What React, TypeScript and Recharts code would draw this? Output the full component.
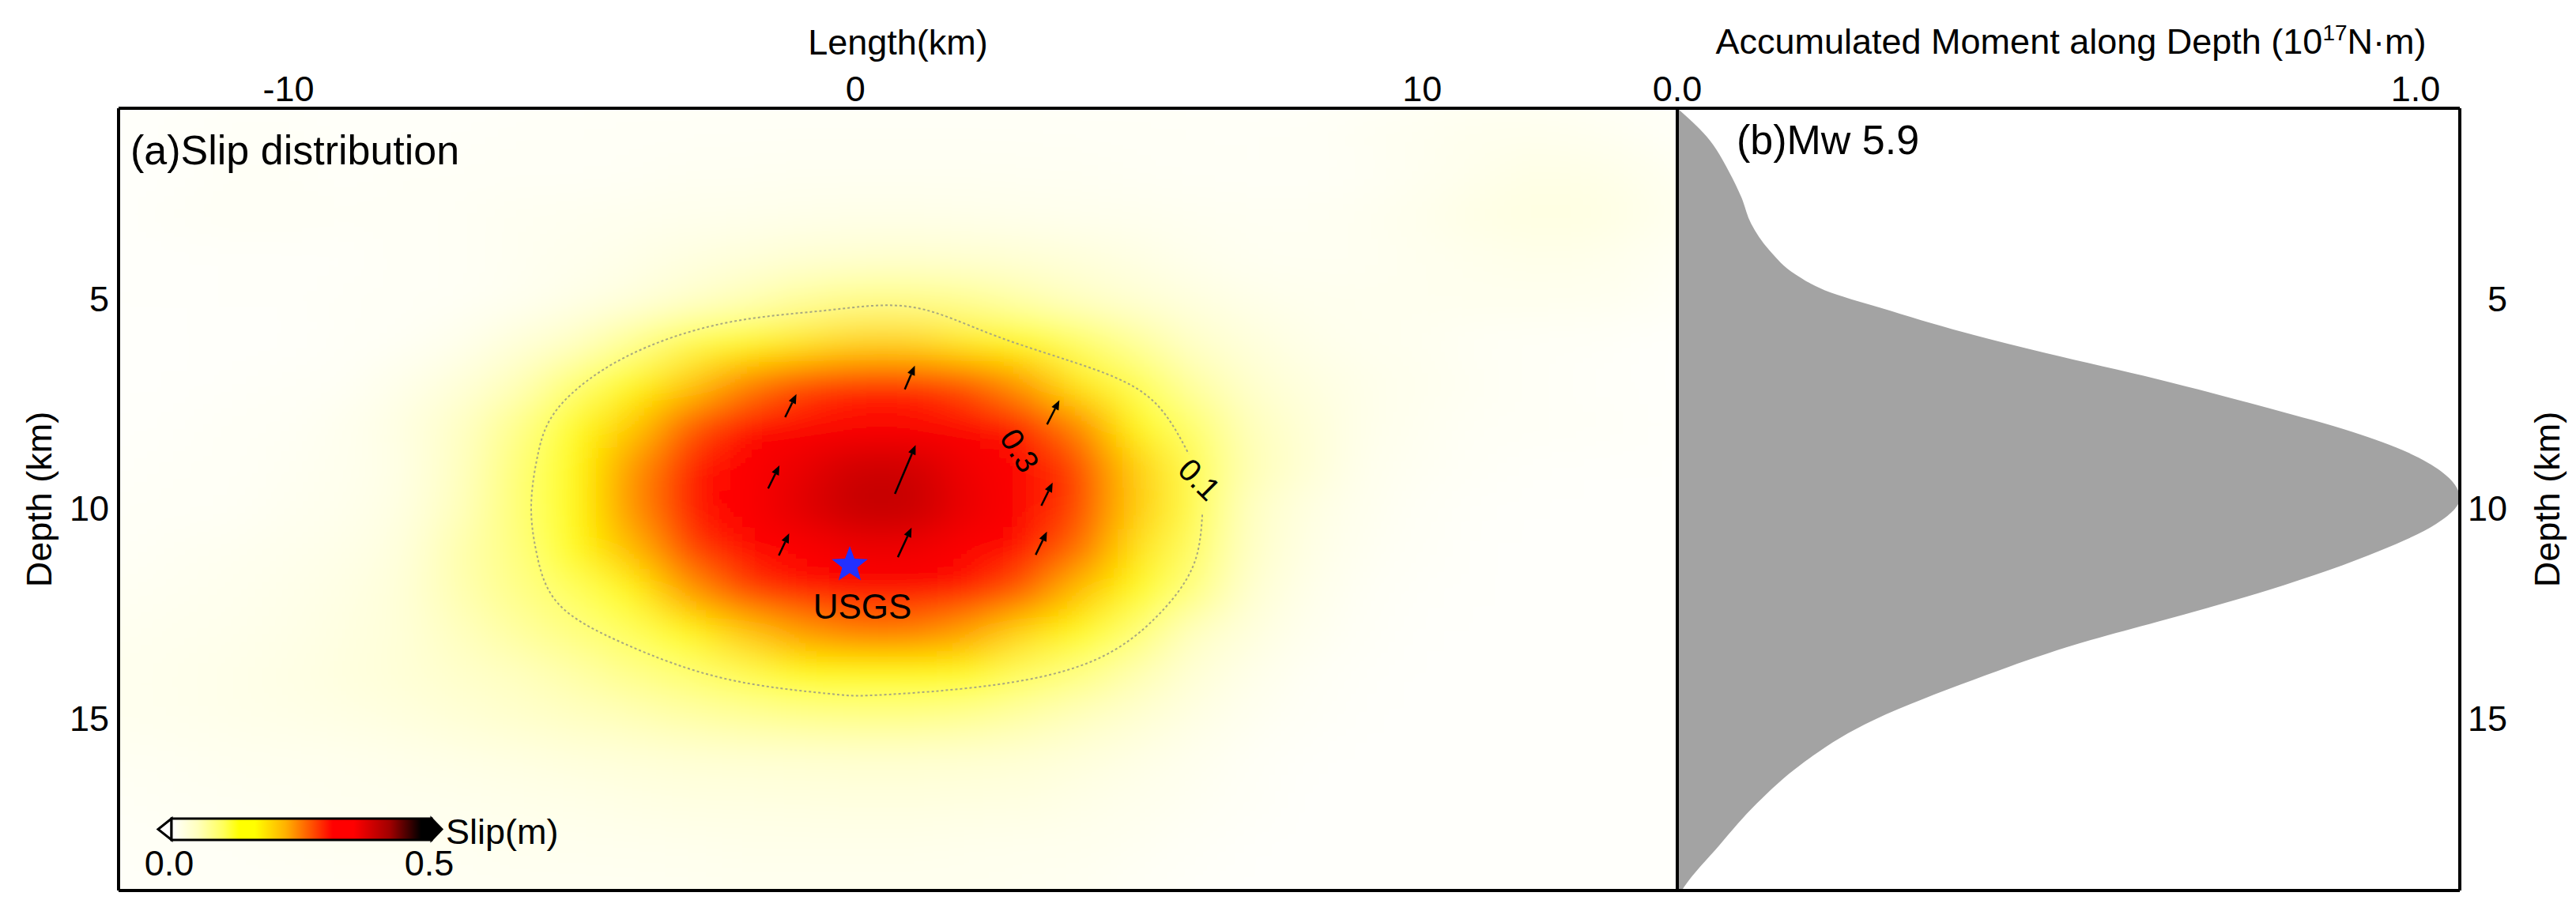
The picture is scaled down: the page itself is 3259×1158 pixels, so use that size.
import React from 'react'
import { ComposedChart, AreaChart, Area, Scatter, Line, XAxis, YAxis } from 'recharts'

const FONT = '"Liberation Sans", Arial, Helvetica, sans-serif'

// ---- slip model (cell centres, km) ----
const strikeKm = [-13, -12, -11, -10, -9, -8, -7, -6, -5, -4, -3, -2, -1, 0, 1, 2, 3, 4, 5, 6, 7, 8, 9, 10, 11, 12, 13, 14, 15]
const depthKm = [0, 1, 2, 3, 4, 5, 6, 7, 8, 9, 10, 11, 12, 13, 14, 15, 16, 17, 18, 19]
// slip in mm, one row per depth
const slipMm = [
  [3, 4, 4, 4, 4, 4, 4, 4, 5, 5, 5, 5, 5, 5, 5, 5, 5, 5, 5, 5, 4, 4, 5, 6, 7, 7, 6, 5, 4],
  [4, 5, 6, 6, 5, 5, 5, 6, 6, 7, 7, 8, 8, 8, 8, 8, 8, 7, 7, 6, 6, 7, 9, 11, 13, 13, 11, 8, 5],
  [3, 4, 6, 6, 5, 6, 6, 7, 7, 8, 9, 9, 10, 10, 10, 10, 9, 9, 8, 7, 6, 6, 8, 11, 15, 19, 18, 13, 7],
  [4, 6, 8, 8, 7, 7, 8, 10, 11, 12, 14, 15, 16, 17, 17, 16, 15, 13, 12, 10, 9, 9, 11, 15, 20, 23, 22, 16, 10],
  [3, 4, 5, 5, 5, 7, 8, 10, 13, 17, 22, 27, 32, 35, 36, 34, 31, 26, 20, 14, 10, 9, 10, 12, 15, 17, 16, 11, 7],
  [4, 4, 5, 5, 6, 7, 8, 11, 18, 25, 38, 52, 66, 76, 76, 70, 58, 45, 33, 24, 17, 13, 12, 12, 13, 13, 12, 9, 5],
  [3, 3, 4, 4, 6, 8, 14, 27, 42, 70, 105, 145, 174, 189, 189, 171, 134, 94, 66, 40, 26, 17, 12, 11, 8, 7, 6, 4, 3],
  [3, 4, 5, 6, 8, 16, 28, 50, 86, 131, 195, 243, 276, 291, 290, 271, 230, 170, 103, 62, 37, 24, 16, 12, 9, 7, 5, 4, 3],
  [4, 5, 7, 8, 12, 22, 42, 74, 122, 195, 265, 308, 333, 347, 346, 331, 298, 241, 161, 90, 50, 30, 16, 11, 8, 7, 6, 5, 4],
  [5, 6, 7, 9, 13, 20, 46, 85, 150, 233, 298, 335, 365, 387, 386, 359, 326, 279, 195, 105, 54, 32, 14, 9, 6, 5, 4, 4, 3],
  [6, 7, 8, 11, 15, 22, 50, 86, 153, 236, 302, 338, 372, 395, 394, 364, 329, 279, 197, 107, 45, 22, 12, 7, 5, 4, 3, 3, 3],
  [7, 9, 11, 14, 18, 26, 58, 81, 134, 209, 279, 322, 345, 360, 360, 341, 311, 256, 178, 96, 42, 20, 10, 6, 4, 3, 3, 3, 3],
  [9, 11, 13, 16, 21, 30, 56, 76, 97, 161, 230, 279, 306, 321, 321, 304, 265, 203, 132, 80, 34, 16, 8, 5, 4, 3, 3, 3, 3],
  [11, 13, 15, 18, 23, 30, 48, 64, 80, 98, 153, 197, 230, 248, 248, 227, 184, 132, 87, 45, 25, 12, 6, 4, 3, 3, 3, 3, 3],
  [13, 15, 17, 20, 25, 31, 39, 48, 60, 74, 87, 103, 128, 142, 142, 126, 97, 79, 55, 30, 16, 8, 5, 3, 3, 3, 3, 3, 3],
  [12, 14, 16, 18, 21, 25, 31, 38, 45, 52, 60, 66, 72, 75, 75, 70, 60, 48, 34, 20, 11, 6, 4, 3, 3, 3, 3, 3, 3],
  [9, 10, 12, 13, 14, 16, 19, 22, 26, 29, 32, 34, 35, 36, 36, 35, 32, 26, 19, 12, 7, 4, 3, 3, 3, 3, 3, 3, 3],
  [8, 9, 10, 11, 12, 13, 14, 16, 18, 20, 22, 22, 23, 24, 24, 23, 22, 18, 14, 9, 6, 3, 3, 3, 3, 3, 3, 3, 3],
  [6, 7, 8, 9, 10, 10, 11, 12, 13, 14, 15, 16, 16, 16, 16, 15, 14, 13, 10, 6, 4, 3, 3, 3, 3, 3, 3, 3, 3],
  [5, 6, 6, 7, 8, 8, 9, 10, 10, 10, 11, 12, 12, 12, 12, 12, 11, 10, 7, 5, 3, 3, 3, 3, 3, 3, 3, 3, 3],
]

// slip vectors
const arrowX = [0.96, -1.14, 3.49, -1.44, 0.88, 3.38, -1.26, 0.87, 3.28]
const arrowDepth = [6.88, 7.55, 7.71, 9.25, 9.07, 9.66, 10.86, 10.81, 10.83]
const arrowSlip = [0.19, 0.19, 0.2, 0.19, 0.39, 0.19, 0.18, 0.24, 0.19]
const arrowRake = [67, 64, 63, 64, 67, 64, 65, 65, 64]

// USGS hypocentre
const hypoX = [-0.1]
const hypoDepth = [11.35]

// 0.1 m contour (open where the label sits)
const contourX = [6.12, 5.95, 5.3, 4.25, 2.5, 0.4, -0.52, -2.3, -4.07, -5.23, -5.62, -5.72, -5.6, -5.23, -4.07, -2.3, -0.52, 1.0, 2.5, 4.25, 5.3, 5.88]
const contourDepth = [10.15, 11.4, 12.6, 13.6, 14.2, 14.45, 14.41, 14.06, 13.23, 12.29, 11.1, 9.93, 8.7, 7.58, 6.4, 5.58, 5.28, 5.2, 5.9, 6.7, 7.5, 8.7]

const contourLabelText = ['0.1', '0.3']
const contourLabelX = [6.07, 2.9]
const contourLabelDepth = [9.31, 8.62]

// accumulated moment along depth (1e17 N m)
const momentDepth = [0.46, 1.14, 1.97, 2.59, 3.21, 3.85, 4.42, 4.8, 5.22, 5.8, 6.3, 6.92, 7.62, 8.18, 8.67, 9.12, 9.75, 10.37, 11.0, 11.95, 12.7, 13.14, 14.2, 15.15, 16.1, 17.03, 18.03, 19.03, 19.11]
const momentValue = [0, 0.04, 0.07, 0.087, 0.1, 0.125, 0.16, 0.2, 0.276, 0.388, 0.5, 0.651, 0.803, 0.915, 0.99, 1.035, 1.06, 1.028, 0.953, 0.8, 0.651, 0.56, 0.384, 0.254, 0.168, 0.108, 0.057, 0.009, 0.006]

// ---- layout ----
const X_DOMAIN: [number, number] = [-13, 14.5]
const D_DOMAIN: [number, number] = [0.46, 19.11]
const M_DOMAIN: [number, number] = [0, 1.06]
const PLOT_L = 150
const PLOT_R = 2122
const PLOT_T = 137
const PLOT_B = 1127
const PX_X = (PLOT_R - PLOT_L) / (X_DOMAIN[1] - X_DOMAIN[0])
const PX_D = (PLOT_B - PLOT_T) / (D_DOMAIN[1] - D_DOMAIN[0])
const ARROW_PX_PER_M = 172

const CMAP: [number, number[]][] = [
  [0, [255, 255, 255]],
  [0.05, [255, 255, 190]],
  [0.1, [255, 255, 90]],
  [0.13, [255, 255, 0]],
  [0.16, [255, 255, 0]],
  [0.22, [255, 176, 0]],
  [0.27, [255, 80, 0]],
  [0.31, [255, 0, 0]],
  [0.35, [255, 0, 0]],
  [0.42, [160, 0, 0]],
  [0.48, [0, 0, 0]],
  [0.5, [0, 0, 0]],
]

const rgb = (c: number[]) => `rgb(${c.map(v => Math.round(v)).join(',')})`

function slipColor(v: number) {
  if (v <= CMAP[0][0]) return rgb(CMAP[0][1])
  for (let i = 1; i < CMAP.length; i++) {
    const [v1, c1] = CMAP[i]
    if (v <= v1) {
      const [v0, c0] = CMAP[i - 1]
      const t = (v - v0) / (v1 - v0)
      return rgb(c0.map((c, k) => c + (c1[k] - c) * t))
    }
  }
  return rgb(CMAP[CMAP.length - 1][1])
}

const slipCells = depthKm.flatMap((d, i) =>
  strikeKm.map((x, j) => ({ x, depth: d, slip: slipMm[i][j] / 1000 }))
)
const arrows = arrowX.map((x, i) => ({ x, depth: arrowDepth[i], slip: arrowSlip[i], rake: arrowRake[i] }))
const hypo = hypoX.map((x, i) => ({ x, depth: hypoDepth[i], name: 'USGS' }))
const contour = contourX.map((x, i) => ({ x, depth: contourDepth[i] }))
const contourLabels = contourLabelText.map((text, i) => ({ x: contourLabelX[i], depth: contourLabelDepth[i], text }))
const momentRows = momentDepth.map((depth, i) => ({ depth, moment: momentValue[i] }))

const LABEL_ANGLE: Record<string, number> = { '0.1': 45, '0.3': 58 }

function SlipCell(props: any) {
  const { cx, cy, payload } = props
  let x0 = cx - PX_X / 2
  let y0 = cy - PX_D / 2
  let w = PX_X
  let h = PX_D
  // pad outer cells so the smoothing does not fade at the frame
  if (payload.x === strikeKm[0]) { x0 -= 80; w += 80 }
  if (payload.x === strikeKm[strikeKm.length - 1]) w += 80
  if (payload.depth === depthKm[0]) { y0 -= 80; h += 80 }
  if (payload.depth === depthKm[depthKm.length - 1]) h += 80
  return <rect x={x0} y={y0} width={w + 0.5} height={h + 0.5} fill={slipColor(payload.slip)} />
}

function SlipArrow(props: any) {
  const { cx, cy, payload } = props
  const len = payload.slip * ARROW_PX_PER_M
  const a = (payload.rake * Math.PI) / 180
  const ux = Math.cos(a)
  const uy = -Math.sin(a)
  const x0 = cx - (ux * len) / 2
  const y0 = cy - (uy * len) / 2
  const x1 = cx + (ux * len) / 2
  const y1 = cy + (uy * len) / 2
  const hl = 12
  const hw = 5
  const bx = x1 - ux * hl
  const by = y1 - uy * hl
  return (
    <g>
      <line x1={x0} y1={y0} x2={bx} y2={by} stroke="#000" strokeWidth={2.5} />
      <polygon points={`${x1},${y1} ${bx - uy * hw},${by + ux * hw} ${bx + uy * hw},${by - ux * hw}`} fill="#000" />
    </g>
  )
}

function Hypocentre(props: any) {
  const { cx, cy, payload } = props
  const R = 24
  const r = R * 0.42
  const pts = []
  for (let k = 0; k < 10; k++) {
    const ang = -Math.PI / 2 + (k * Math.PI) / 5
    const rr = k % 2 === 0 ? R : r
    pts.push(`${cx + rr * Math.cos(ang)},${cy + rr * Math.sin(ang)}`)
  }
  return (
    <g>
      <polygon points={pts.join(' ')} fill="#2230ff" />
      <text x={cx + 16} y={cy + 68} textAnchor="middle" fontSize={44} fill="#000">{payload.name}</text>
    </g>
  )
}

function ContourLabel(props: any) {
  const { cx, cy, payload } = props
  return (
    <text x={cx} y={cy} transform={`rotate(${LABEL_ANGLE[payload.text]} ${cx} ${cy})`} textAnchor="middle" dominantBaseline="central" fontSize={40} fill="#000">
      {payload.text}
    </text>
  )
}

function RightTick(props: any) {
  const { x, y, payload } = props
  return (
    <text x={x + 50} y={y} dy="0.355em" textAnchor="end" fontSize={45} fill="#000">{payload.value}</text>
  )
}

const frame = { stroke: '#000', strokeWidth: 4 }
const tickStyle = { fill: '#000', fontSize: 45 }

function SlipPanel() {
  return (
    <ComposedChart width={2140} height={1158} margin={{ top: 0, right: 17, bottom: 30, left: 0 }}>
      <Scatter data={slipCells} shape={SlipCell} className="slip-field" isAnimationActive={false} zIndex={-10} />
      <Line data={contour} dataKey="depth" type="natural" stroke="#a8a880" strokeWidth={2} strokeDasharray="3 3" dot={false} activeDot={false} isAnimationActive={false} zIndex={650} />
      <Scatter data={arrows} shape={SlipArrow} isAnimationActive={false} zIndex={700} />
      <Scatter data={hypo} shape={Hypocentre} isAnimationActive={false} zIndex={700} />
      <Scatter data={contourLabels} shape={ContourLabel} isAnimationActive={false} zIndex={700} />
      <XAxis type="number" dataKey="x" domain={X_DOMAIN} ticks={[-10, 0, 10]} orientation="top" height={137} allowDataOverflow tickSize={0} tickMargin={9} tickLine={false} axisLine={frame} tick={tickStyle} />
      <XAxis xAxisId="b" type="number" dataKey="x" domain={X_DOMAIN} orientation="bottom" height={1} allowDataOverflow tick={false} tickLine={false} axisLine={frame} />
      <YAxis type="number" dataKey="depth" domain={D_DOMAIN} reversed ticks={[5, 10, 15]} width={150} allowDataOverflow tickSize={0} tickMargin={12} tickLine={false} axisLine={frame} tick={tickStyle} />
      <YAxis yAxisId="r" type="number" dataKey="depth" domain={D_DOMAIN} reversed orientation="right" width={1} allowDataOverflow tick={false} tickLine={false} axisLine={frame} />
    </ComposedChart>
  )
}

function MomentPanel() {
  return (
    <AreaChart layout="vertical" width={1259} height={1158} data={momentRows} margin={{ top: 0, right: 0, bottom: 30, left: 121 }}>
      <Area dataKey="moment" type="monotone" fill="#a3a3a3" fillOpacity={1} stroke="none" isAnimationActive={false} />
      <XAxis type="number" domain={M_DOMAIN} ticks={[0, 1]} tickFormatter={(v: number) => v.toFixed(1)} orientation="top" height={137} allowDataOverflow tickSize={0} tickMargin={9} tickLine={false} axisLine={frame} tick={tickStyle} />
      <XAxis xAxisId="b" type="number" domain={M_DOMAIN} orientation="bottom" height={1} allowDataOverflow tick={false} tickLine={false} axisLine={frame} />
      <YAxis type="number" dataKey="depth" domain={D_DOMAIN} ticks={[5, 10, 15]} orientation="right" width={147} allowDataOverflow tickSize={0} tickMargin={10} tickLine={false} axisLine={frame} tick={RightTick} />
      <YAxis yAxisId="l" type="number" dataKey="depth" domain={D_DOMAIN} orientation="left" width={1} allowDataOverflow tick={false} tickLine={false} axisLine={frame} />
    </AreaChart>
  )
}

function Colorbar() {
  const x0 = 217
  const x1 = 546
  const y0 = 1036
  const y1 = 1063
  const ym = (y0 + y1) / 2
  return (
    <g>
      <defs>
        <linearGradient id="slipGrad" x1="0" x2="1" y1="0" y2="0">
          {CMAP.map(([v, c]) => <stop key={v} offset={v / 0.5} stopColor={rgb(c)} />)}
        </linearGradient>
      </defs>
      <polygon points={`${x0},${y0} ${x0 - 17},${ym} ${x0},${y1}`} fill="#fff" stroke="#000" strokeWidth={3} />
      <polygon points={`${x1},${y0} ${x1 + 13},${ym} ${x1},${y1}`} fill="#000" stroke="#000" strokeWidth={3} />
      <rect x={x0} y={y0} width={x1 - x0} height={y1 - y0} fill="url(#slipGrad)" stroke="#000" strokeWidth={3} />
      <text x={214} y={1108} textAnchor="middle" fontSize={45}>0.0</text>
      <text x={543} y={1108} textAnchor="middle" fontSize={45}>0.5</text>
      <text x={564} y={1068} fontSize={45}>Slip(m)</text>
    </g>
  )
}

export default function App() {
  return (
    <div style={{ position: 'relative', width: 3259, height: 1158, background: '#fff', fontFamily: FONT, overflow: 'hidden' }}>
      <style>{'body{margin:0} .slip-field{filter:url(#slipBlur)}'}</style>
      <svg width={0} height={0} style={{ position: 'absolute' }}>
        <defs>
          <filter id="slipBlur" x="-5%" y="-5%" width="110%" height="110%">
            <feGaussianBlur stdDeviation="32 24" />
          </filter>
        </defs>
      </svg>
      <div style={{ position: 'absolute', left: 0, top: 0 }}>
        <SlipPanel />
      </div>
      <div style={{ position: 'absolute', left: 2000, top: 0 }}>
        <MomentPanel />
      </div>
      <svg width={3259} height={1158} style={{ position: 'absolute', left: 0, top: 0, pointerEvents: 'none' }} fontFamily={FONT} fill="#000">
        <text x={1136} y={69} textAnchor="middle" fontSize={45}>Length(km)</text>
        <text x={2620} y={68} textAnchor="middle" fontSize={45}>
          Accumulated Moment along Depth (10<tspan dy={-17} fontSize={28}>17</tspan><tspan dy={17}>N·m)</tspan>
        </text>
        <text transform="translate(49,632) rotate(-90)" textAnchor="middle" dominantBaseline="central" fontSize={45}>Depth (km)</text>
        <text transform="translate(3222,632) rotate(-90)" textAnchor="middle" dominantBaseline="central" fontSize={45}>Depth (km)</text>
        <text x={165} y={208} fontSize={52}>(a)Slip distribution</text>
        <text x={2197} y={195} fontSize={52}>(b)Mw 5.9</text>
        <Colorbar />
      </svg>
    </div>
  )
}
